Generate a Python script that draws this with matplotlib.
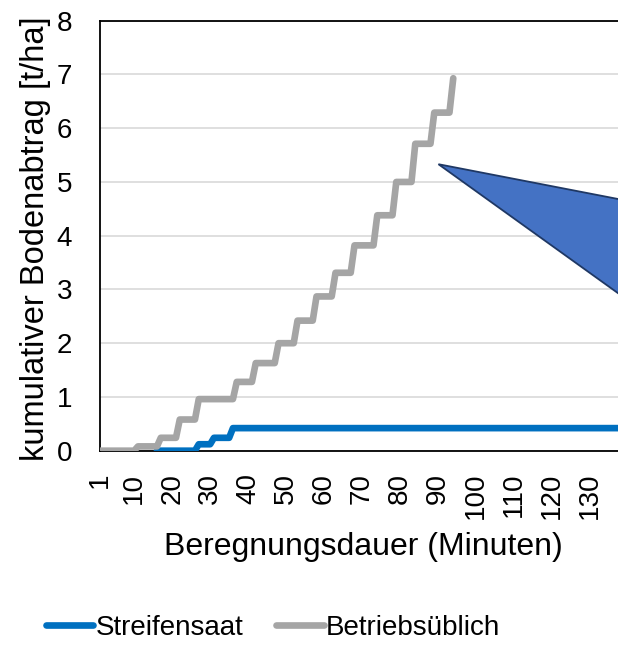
import numpy as np
import matplotlib
matplotlib.use("Agg")
import matplotlib.pyplot as plt
from matplotlib.patches import Polygon

plt.rcParams['font.family'] = ['Liberation Sans', 'DejaVu Sans']

# Minute categories on the x axis
minutes = np.arange(1, 151)

# Cumulative soil loss, stored as plateaus: first minute of each level and its value
streifensaat_start = [16, 27, 31, 36]
streifensaat_level = [0.0, 0.12, 0.24, 0.42]
streifensaat_last = 150

betrieb_start = [1, 11, 17, 22, 27, 37, 42, 48, 53, 58, 63, 68, 74, 79, 84, 89, 94]
betrieb_level = [0.0, 0.08, 0.24, 0.58, 0.96, 1.28, 1.63, 2.0, 2.42, 2.87,
                 3.31, 3.82, 4.38, 5.0, 5.71, 6.29, 6.93]
betrieb_last = 94

tick_minutes = [1, 10, 20, 30, 40, 50, 60, 70, 80, 90, 100, 110, 120, 130]
series_names = ["Streifensaat", "Betriebsüblich"]


def per_minute(starts, levels, last):
    vals = np.full(minutes.shape, np.nan)
    ends = list(starts[1:]) + [last + 1]
    for s, e, v in zip(starts, ends, levels):
        vals[(minutes >= s) & (minutes < e)] = v
    return vals


streifen = per_minute(streifensaat_start, streifensaat_level, streifensaat_last)
betrieb = per_minute(betrieb_start, betrieb_level, betrieb_last)

W, H = 618, 646
fig = plt.figure(figsize=(W / 100, H / 100), dpi=100)

x0, x1 = 1, 150
px_per_min = 490 / 129
left_px, top_px, bottom_px = 100, 20.7, 450.7
right_px = left_px + (x1 - x0) * px_per_min
ax = fig.add_axes([left_px / W, (H - bottom_px) / H,
                   (right_px - left_px) / W, (bottom_px - top_px) / H])

blue = "#0070C0"
grey = "#A5A5A5"
ax.plot(minutes, streifen, color=blue, lw=4.8, solid_capstyle="round",
        solid_joinstyle="round", zorder=3, label=series_names[0])
ax.plot(minutes, betrieb, color=grey, lw=4.8, solid_capstyle="round",
        solid_joinstyle="round", zorder=4, label=series_names[1])

ax.set_xlim(x0, x1)
ax.set_ylim(0, 8)
ax.set_yticks(range(0, 9))
ax.set_xticks(tick_minutes)
ax.set_xticklabels([str(t) for t in tick_minutes], rotation=90)
ax.tick_params(axis="both", length=0, labelsize=20, colors="black")
ax.tick_params(axis="y", pad=20)
ax.tick_params(axis="x", pad=16)
ax.grid(axis="y", color="#D9D9D9", lw=1.2, zorder=0)
ax.set_axisbelow(True)
for side in ("left", "bottom", "top"):
    ax.spines[side].set_color("black")
    ax.spines[side].set_linewidth(1.3)
ax.spines["right"].set_visible(False)

# Callout pointer shape
tri = Polygon([[90.1, 5.33], [150, 4.51], [150, 2.29]], closed=True,
              facecolor="#4472C4", edgecolor="#1F3864", lw=1.3, zorder=5)
ax.add_patch(tri)

fig.text(36 / W, 1 - 239 / H, "kumulativer Bodenabtrag [t/ha]", rotation=90,
         ha="center", va="center", fontsize=23.5)
fig.text(363 / W, 1 - 547 / H, "Beregnungsdauer (Minuten)",
         ha="center", va="center", fontsize=23)

fig.legend(loc="center", bbox_to_anchor=(273 / W, 1 - 628 / H), ncol=2,
           frameon=False, fontsize=20, handlelength=1.7, handletextpad=0.07,
           columnspacing=1.2, borderpad=0, borderaxespad=0)

fig.savefig("out.png", dpi=100)
